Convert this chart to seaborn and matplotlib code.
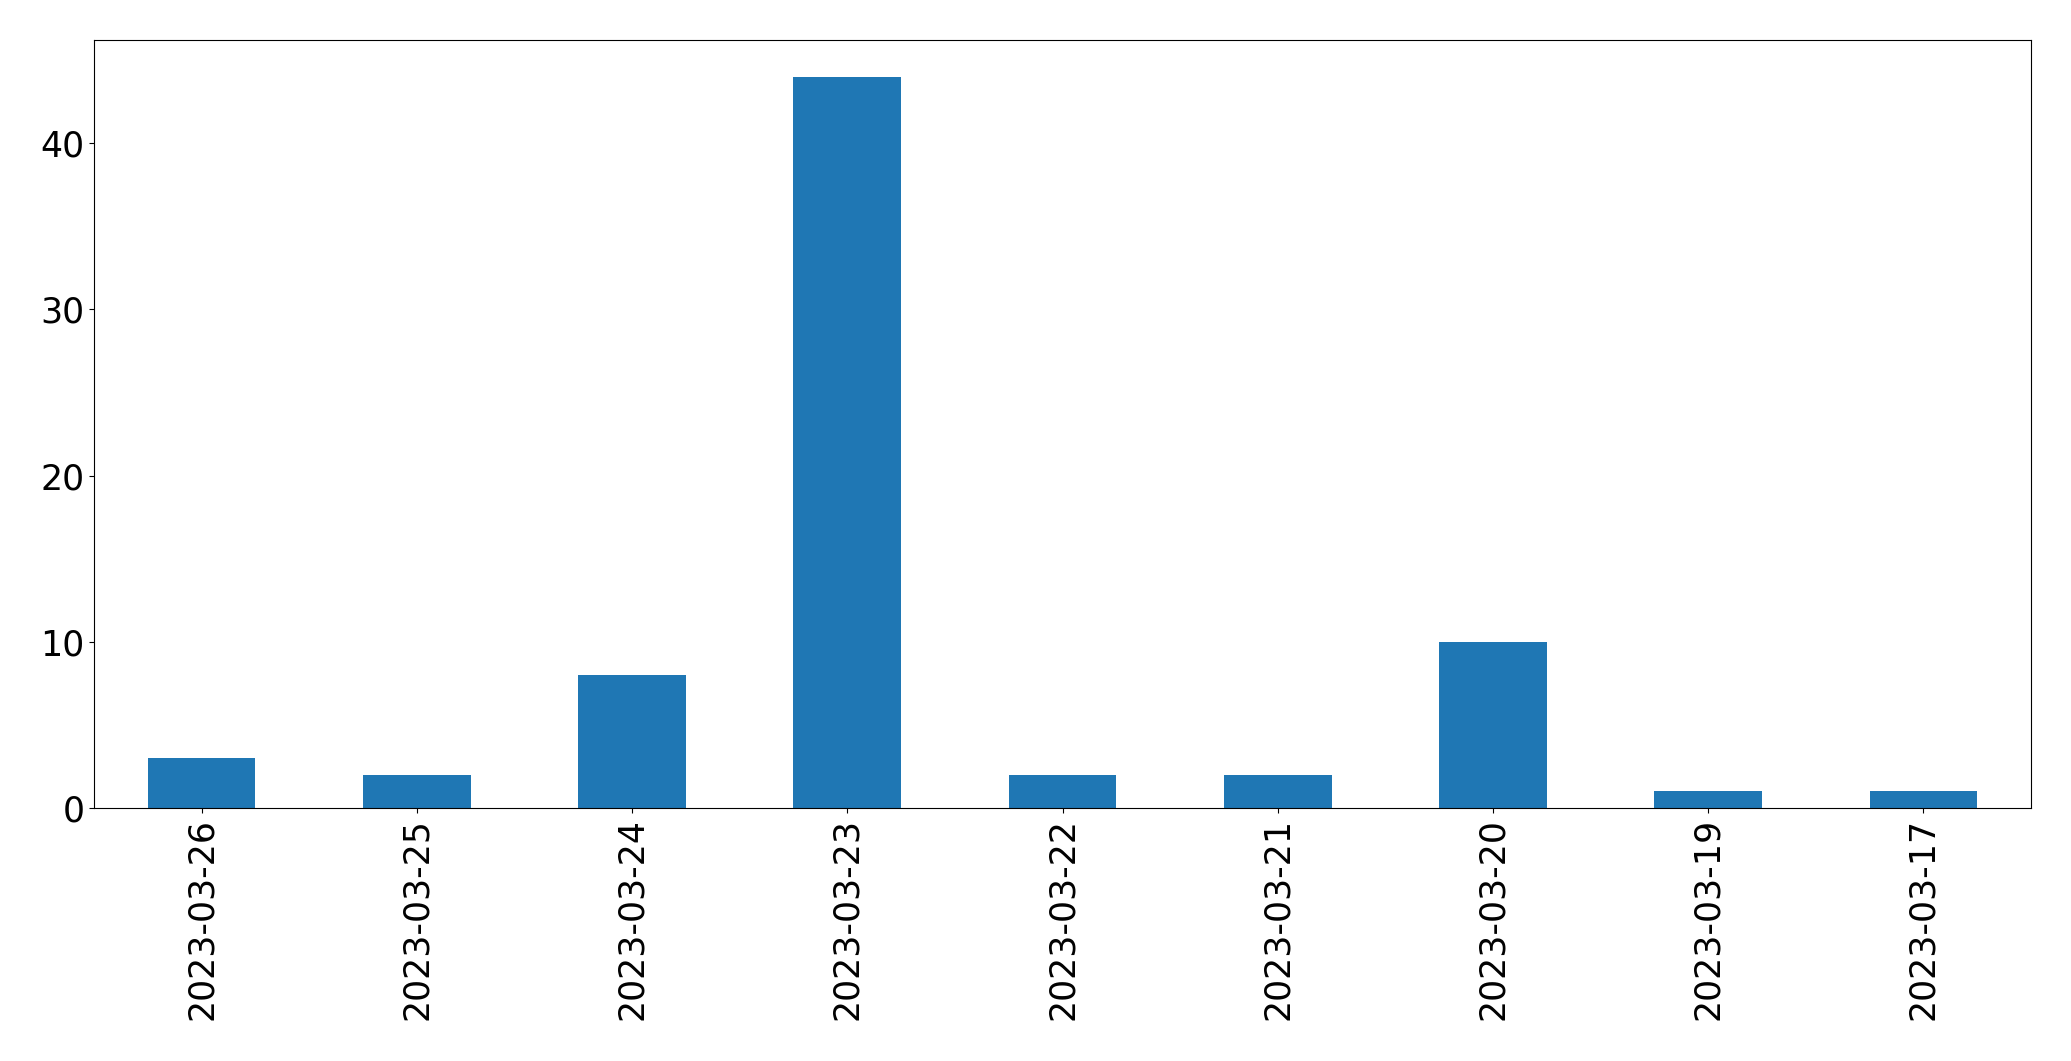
import matplotlib
matplotlib.use("Agg")
import matplotlib.pyplot as plt
import pandas as pd
import seaborn as sns

# ── data ──────────────────────────────────────────────────────────────────────
dates = ["2023-03-26", "2023-03-25", "2023-03-24", "2023-03-23", "2023-03-22",
         "2023-03-21", "2023-03-20", "2023-03-19", "2023-03-17"]
counts = [3, 2, 8, 44, 2, 2, 10, 1, 1]

df = pd.DataFrame({"date": dates, "count": counts})

# ── plot ──────────────────────────────────────────────────────────────────────
fig = plt.figure(figsize=(20.71, 10.61), dpi=100)
ax = fig.add_axes([0.0454, 0.2385, 0.9353, 0.7238])

sns.barplot(data=df, x="date", y="count", order=dates, color="#1f77b4",
            saturation=1, width=0.5, ax=ax)

ax.set_xlim(-0.5, len(dates) - 0.5)
ax.set_ylim(0, max(counts) * 1.05)
ax.set_yticks([0, 10, 20, 30, 40])
ax.set_xlabel("")
ax.set_ylabel("")
ax.tick_params(axis="both", labelsize=25)
ax.tick_params(axis="x", rotation=90)

fig.savefig("out.png", dpi=100)
